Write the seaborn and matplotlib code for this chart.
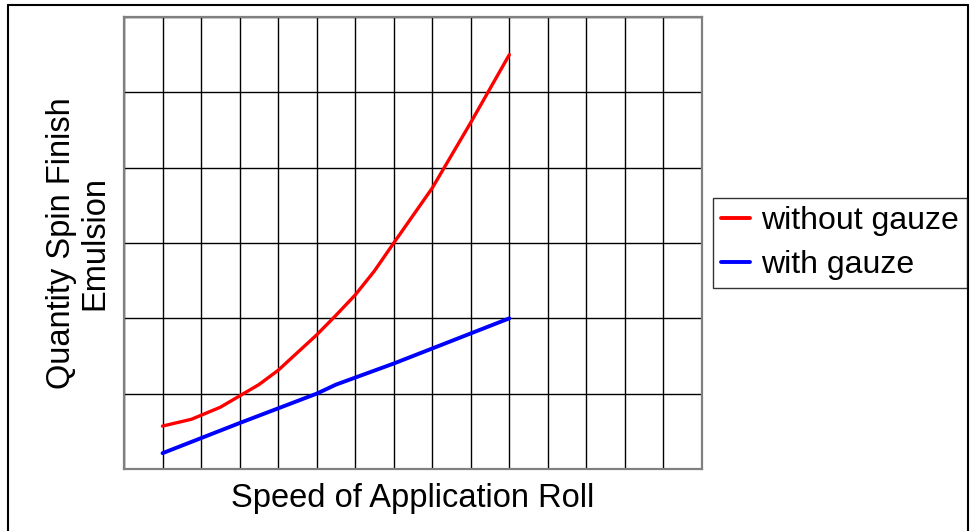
import pandas as pd
import matplotlib.pyplot as plt
import seaborn as sns

# Values, in grid units (x 0..15, y 0..6)
speed_without = [1, 1.75, 2.5, 3, 3.5, 4, 5, 5.5, 6, 6.5, 7, 8, 9, 10]
qty_without = [0.57, 0.66, 0.82, 0.97, 1.12, 1.31, 1.78, 2.04, 2.31, 2.63, 3.0, 3.73, 4.6, 5.5]
speed_with = [1, 3, 5, 5.5, 7, 10]
qty_with = [0.21, 0.61, 1.0, 1.12, 1.4, 2.0]
series_names = ["without gauze", "with gauze"]

sns.set_theme(style="white")
plt.rcParams['font.family'] = ['Liberation Sans', 'DejaVu Sans']
plt.rcParams['text.color'] = 'black'
plt.rcParams['axes.labelcolor'] = 'black'

df = pd.concat([
    pd.DataFrame({'speed': speed_without, 'qty': qty_without, 'series': series_names[0]}),
    pd.DataFrame({'speed': speed_with, 'qty': qty_with, 'series': series_names[1]}),
])

fig = plt.figure(figsize=(9.71, 5.31), dpi=100)
ax = fig.add_axes([124 / 971, 62 / 531, 578 / 971, 452 / 531])

palette = {series_names[0]: '#ff0000', series_names[1]: '#0000ff'}
sns.lineplot(data=df, x='speed', y='qty', hue='series', palette=palette,
             sort=False, estimator=None, ax=ax, legend=False)
ax.lines[0].set_linewidth(2.4)
ax.lines[1].set_linewidth(2.8)

ax.set_xlim(0, 15)
ax.set_ylim(0, 6)
ax.set_xticks(range(16))
ax.set_yticks(range(7))
ax.tick_params(length=0, labelbottom=False, labelleft=False)
ax.grid(True, color='black', linewidth=1)
ax.set_axisbelow(True)
for s in ax.spines.values():
    s.set_color('#808080')
    s.set_linewidth(1.6)

ax.set_xlabel("Speed of Application Roll", fontsize=23.5)
ax.set_ylabel("Quantity Spin Finish\nEmulsion", fontsize=23.5, linespacing=1.1)
ax.yaxis.set_label_coords(-0.024, 0.5)
ax.xaxis.set_label_coords(0.5, -0.032)

handles = [plt.Line2D([], [], color=palette[n], linewidth=2.8) for n in series_names]
leg = fig.legend(handles, series_names, loc='center left',
                 bbox_to_anchor=(713 / 971, 1 - 243 / 531), fontsize=23,
                 frameon=True, fancybox=False, edgecolor='black',
                 handlelength=0.9, handletextpad=0.35, borderpad=0.25,
                 labelspacing=0.45, borderaxespad=0)
leg.get_frame().set_linewidth(1)

# outer frame of the figure
fig.add_artist(plt.Line2D([8 / 971, 8 / 971], [0, 1 - 5 / 531], color='black', lw=1.5))
fig.add_artist(plt.Line2D([8 / 971, 968 / 971], [1 - 5 / 531, 1 - 5 / 531], color='black', lw=1.5))
fig.add_artist(plt.Line2D([968 / 971, 968 / 971], [0, 1 - 5 / 531], color='black', lw=1.5))

fig.savefig('out.png', dpi=100)
